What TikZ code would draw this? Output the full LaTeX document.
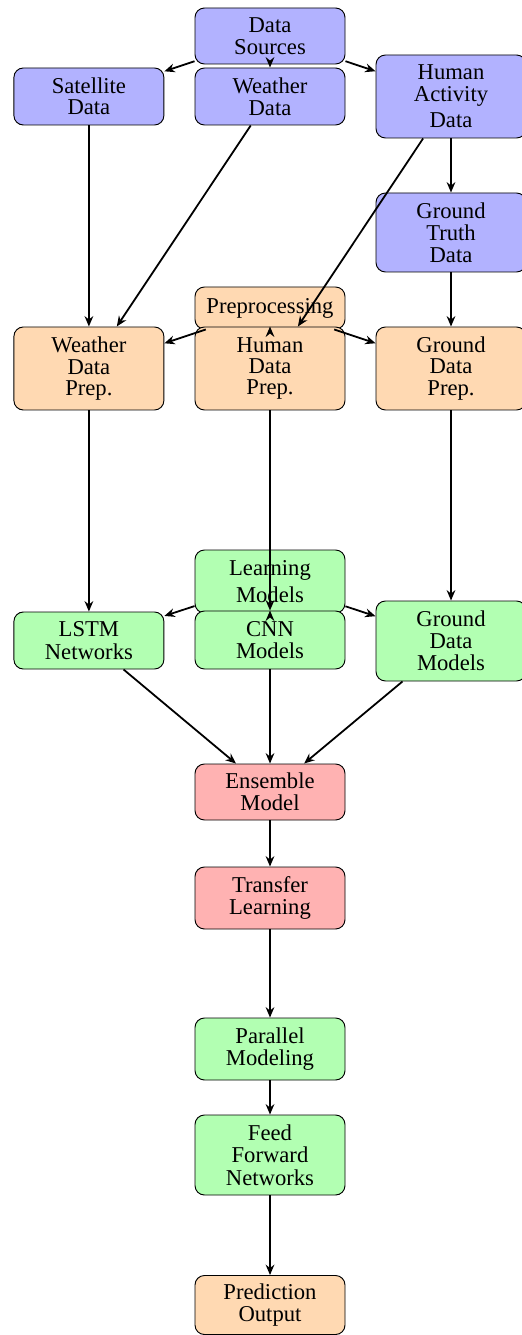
\documentclass[tikz,border=0pt]{standalone}
\usepackage{fontspec}
\setmainfont{Liberation Serif}
\usetikzlibrary{arrows.meta}
\newcommand\nodetxtfont{\fontsize{12pt}{0pt}\selectfont\setlength{\lineskip}{3.4pt}\setlength{\lineskiplimit}{0pt}}
\begin{document}
\begin{tikzpicture}[x=0.53pt,y=-0.53pt,
  box/.style={draw=black, line width=0.5pt, rounded corners=5pt,
    minimum width=79.5pt, align=center, inner sep=1pt,
    font=\nodetxtfont},
  hh/.style={minimum height=#1*0.53pt},
  blu/.style={box, fill=blue!30},
  ora/.style={box, fill=orange!30},
  gre/.style={box, fill=green!30},
  rd/.style={box, fill=red!30},
  arr/.style={-{Stealth[length=5.5pt,width=4.6pt]}, line width=0.95pt}]
\useasboundingbox (0,0) rectangle (521,1335);
% nodes
\node[blu, hh=56] (ds) at (270,36) {Data\\Sources};
\node[blu, hh=57] (sat) at (88.9,96.5) {Satellite\\Data};
\node[blu, hh=57] (wd) at (270,96.5) {Weather\\Data};
\node[blu, hh=83] (ha) at (451,96.5) {Human\\Activity\\Data};
\node[blu, hh=79] (gt) at (451,232.5) {Ground\\Truth\\Data};
\node[ora, hh=42] (pre) at (270,308) {Preprocessing};
\node[ora, hh=83] (wdp) at (88.9,368.5) {Weather\\Data\\Prep.};
\node[ora, hh=83] (hdp) at (270,368.5) {Human\\Data\\Prep.};
\node[ora, hh=83] (gdp) at (451,368.5) {Ground\\Data\\Prep.};
\node[gre, hh=63] (lm) at (270,581.5) {Learning\\Models};
\node[gre, hh=57] (lstm) at (88.9,640.5) {LSTM\\Networks};
\node[gre, hh=58] (cnn) at (270,640) {CNN\\Models};
\node[gre, hh=80] (gdm) at (451,641) {Ground\\Data\\Models};
\node[rd, hh=56] (ens) at (270,792) {Ensemble\\Model};
\node[rd, hh=62] (tl) at (270,898) {Transfer\\Learning};
\node[gre, hh=62] (pm) at (270,1049) {Parallel\\Modeling};
\node[gre, hh=80] (ff) at (270,1155) {Feed\\Forward\\Networks};
\node[ora, hh=59] (po) at (270,1305) {Prediction\\Output};
% edges
\draw[arr] (ds) -- (sat);
\draw[arr] (ds) -- (wd);
\draw[arr] (ds) -- (ha);
\draw[arr] (sat) -- (wdp);
\draw[arr] (wd) -- (wdp);
\draw[arr] (ha) -- (hdp);
\draw[arr] (ha) -- (gt);
\draw[arr] (gt) -- (gdp);
\draw[arr] (pre) -- (wdp);
\draw[arr] (pre) -- (hdp);
\draw[arr] (pre) -- (gdp);
\draw[arr] (wdp) -- (lstm);
\draw[arr] (hdp) -- (cnn);
\draw[arr] (gdp) -- (gdm);
\draw[arr] (lm) -- (lstm);
\draw[arr] (lm) -- (cnn);
\draw[arr] (lm) -- (gdm);
\draw[arr] (lstm) -- (ens);
\draw[arr] (cnn) -- (ens);
\draw[arr] (gdm) -- (ens);
\draw[arr] (ens) -- (tl);
\draw[arr] (tl) -- (pm);
\draw[arr] (pm) -- (ff);
\draw[arr] (ff) -- (po);
\end{tikzpicture}
\end{document}
